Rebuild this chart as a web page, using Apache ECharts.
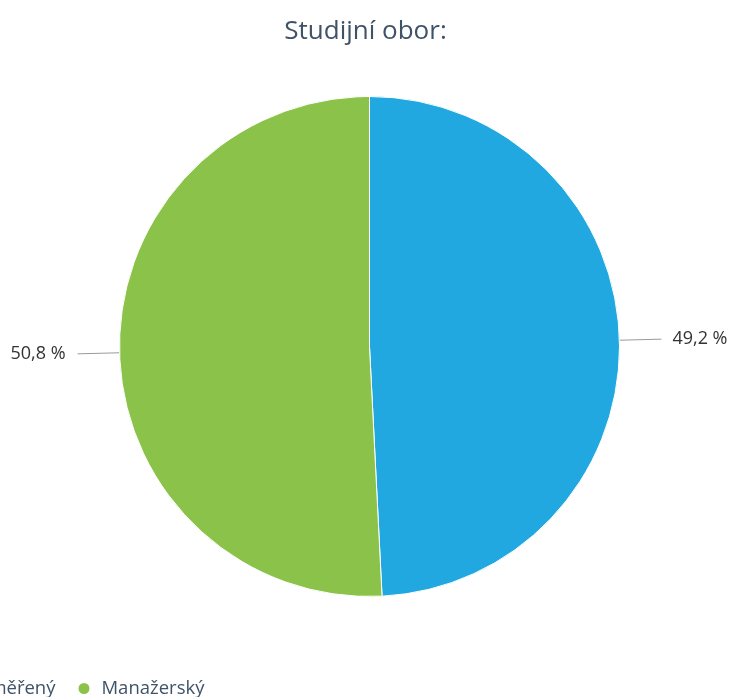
<!DOCTYPE html>
<html><head><meta charset="utf-8">
<script src="https://cdn.jsdelivr.net/npm/echarts@6/dist/echarts.min.js"></script>
<style>html,body{margin:0;padding:0;background:#fff}#c{width:731px;height:697px}</style>
</head><body><div id="c"></div>
<script>
const title = 'Studijní obor:';
const categories = ['Technicky zaměřený', 'Manažerský'];
const values = [49.2, 50.8];
const colors = ['#21a8e0', '#8bc34a'];

// legend is clipped on the left in the reference: place first item's text end near x=52
const ctx = document.createElement('canvas').getContext('2d');
ctx.font = '18.5px "Open Sans"';
const firstW = ctx.measureText(categories[0]).width;
const legendLeft = Math.round(55 - firstW - 5 - 25);

const chart = echarts.init(document.getElementById('c'));
chart.setOption({
  animation: false,
  title: {
    text: title, left: 'center', top: 14,
    textStyle: {fontFamily: 'Open Sans', fontSize: 26, fontWeight: 'normal', color: '#3e5368'}
  },
  legend: {
    left: legendLeft, top: 674, icon: 'circle', itemWidth: 25, itemHeight: 13, itemGap: 21,
    textStyle: {fontFamily: 'Open Sans', fontSize: 18.5, color: '#3e5368'},
    data: categories
  },
  series: [{
    type: 'pie',
    center: [369.5, 346.5],
    radius: 250,
    startAngle: 90,
    clockwise: true,
    data: categories.map((n, i) => ({
      name: n, value: values[i], itemStyle: {color: colors[i]},
      label: {padding: i === 0 ? [0, 0, 0, 6] : [0, 7, 0, 0]}
    })),
    itemStyle: {borderColor: '#fff', borderWidth: 1},
    label: {
      formatter: p => p.value.toFixed(1).replace('.', ',') + ' %',
      fontFamily: 'Open Sans', fontSize: 18, color: '#333',
      overflow: 'none', edgeDistance: 0
    },
    labelLine: {length: 42, length2: 0, lineStyle: {color: '#999', width: 1}}
  }]
});
</script></body></html>
